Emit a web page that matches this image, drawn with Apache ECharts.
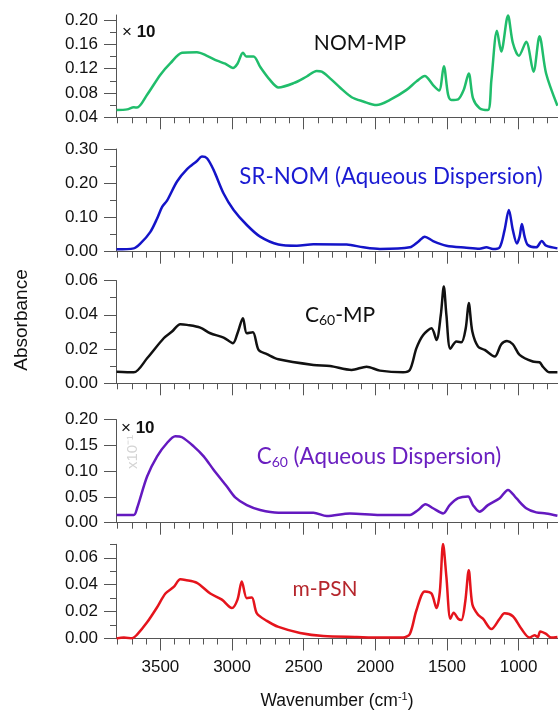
<!DOCTYPE html>
<html>
<head>
  <meta charset="utf-8">
  <title>FTIR spectra</title>
  <style>
html, body { margin: 0; padding: 0; background: #fff; }
#chart { width: 558px; height: 711px; }
  </style>
</head>
<body>
  <div id="chart"></div>
  <script src="https://cdn.jsdelivr.net/npm/echarts@6/dist/echarts.min.js"></script>
  <script>
// wavenumber (cm-1) and absorbance
const nomWn  = [3806, 3732, 3686, 3663, 3593, 3500, 3430, 3349, 3245, 3175, 3105, 3048, 2994, 2962, 2924, 2901, 2850, 2804, 2734, 2676,
  2571, 2479, 2409, 2374, 2316, 2247, 2165, 2084, 1991, 1898, 1782, 1713, 1655, 1597, 1555, 1522, 1492, 1469, 1422, 1383,
  1348, 1318, 1272, 1214, 1190, 1151, 1121, 1074, 1040, 998, 947, 896, 854, 808, 729];
const nomAbs = [0.052, 0.053, 0.0565, 0.056, 0.077, 0.110, 0.129, 0.146, 0.147, 0.141, 0.133, 0.128, 0.121, 0.128, 0.146, 0.140, 0.140, 0.123, 0.101, 0.089,
  0.096, 0.107, 0.116, 0.115, 0.104, 0.089, 0.073, 0.066, 0.060, 0.0685, 0.085, 0.099, 0.108, 0.093, 0.084, 0.124, 0.077, 0.0685, 0.0696, 0.085,
  0.112, 0.071, 0.055, 0.052, 0.101, 0.182, 0.148, 0.207, 0.162, 0.141, 0.164, 0.115, 0.173, 0.112, 0.059];

const srWn  = [3806, 3686, 3639, 3570, 3523, 3488, 3454, 3384, 3314, 3245, 3210, 3175, 3129, 3059, 2989, 2897, 2804, 2676, 2548, 2432,
  2200, 2084, 1968, 1759, 1701, 1655, 1597, 1504, 1365, 1272, 1225, 1179, 1132, 1098, 1068, 1040, 1012, 993, 977, 958,
  935, 877, 838, 808, 729];
const srAbs = [0.007, 0.0097, 0.024, 0.058, 0.097, 0.131, 0.149, 0.205, 0.241, 0.265, 0.278, 0.273, 0.239, 0.170, 0.122, 0.078, 0.044, 0.021, 0.0175, 0.022,
  0.021, 0.0127, 0.0078, 0.0127, 0.029, 0.044, 0.031, 0.0175, 0.0117, 0.0088, 0.0127, 0.0078, 0.0127, 0.063, 0.122, 0.063, 0.024, 0.044, 0.081, 0.044,
  0.0195, 0.0127, 0.031, 0.0175, 0.0097];

const c60mpWn  = [3806, 3686, 3593, 3477, 3419, 3361, 3314, 3222, 3152, 3059, 2994, 2962, 2924, 2897, 2855, 2815, 2757, 2676, 2432, 2316,
  2165, 2061, 1968, 1806, 1759, 1713, 1666, 1608, 1573, 1543, 1522, 1504, 1476, 1434, 1399, 1369, 1348, 1323, 1283, 1237,
  1167, 1121, 1081, 1040, 993, 901, 854, 831, 784, 729];
const c60mpAbs = [0.0068, 0.0064, 0.0146, 0.0263, 0.0302, 0.0345, 0.0341, 0.0325, 0.0292, 0.0267, 0.0234, 0.0292, 0.038, 0.0292, 0.0298, 0.0195, 0.017, 0.014, 0.0107, 0.0101,
  0.0078, 0.0097, 0.0074, 0.0064, 0.0078, 0.0205, 0.0282, 0.0321, 0.0253, 0.0399, 0.0565, 0.0399, 0.0201, 0.0244, 0.024, 0.0321, 0.0468, 0.0302, 0.0214, 0.0195,
  0.0156, 0.0228, 0.0247, 0.0228, 0.0166, 0.0127, 0.0123, 0.0097, 0.0064, 0.0064];

const c60aqWn  = [3806, 3686, 3663, 3593, 3523, 3454, 3396, 3349, 3268, 3198, 3129, 3036, 2978, 2897, 2804, 2676, 2432, 2339, 2177, 1968,
  1759, 1701, 1650, 1597, 1527, 1481, 1422, 1353, 1318, 1272, 1214, 1132, 1074, 1016, 947, 877, 808, 729];
const c60aqAbs = [0.015, 0.015, 0.028, 0.0896, 0.1286, 0.1545, 0.1675, 0.1656, 0.148, 0.1286, 0.1026, 0.070, 0.049, 0.034, 0.0247, 0.0195, 0.0195, 0.013, 0.018, 0.015,
  0.015, 0.0247, 0.0357, 0.028, 0.018, 0.034, 0.0474, 0.0506, 0.034, 0.0214, 0.034, 0.0474, 0.0636, 0.0474, 0.028, 0.020, 0.018, 0.0136];

const psnWn  = [3806, 3755, 3697, 3663, 3593, 3523, 3465, 3407, 3361, 3326, 3245, 3152, 3071, 3001, 2962, 2932, 2897, 2862, 2827, 2757,
  2676, 2525, 2363, 2130, 1968, 1806, 1759, 1713, 1655, 1608, 1573, 1550, 1527, 1504, 1476, 1453, 1422, 1399, 1372, 1348,
  1323, 1283, 1249, 1190, 1132, 1098, 1040, 982, 924, 889, 866, 849, 808, 773, 729];
const psnAbs = [0.000, 0.0007, 0.0002, 0.0029, 0.012, 0.0232, 0.0334, 0.0383, 0.044, 0.0435, 0.0413, 0.0334, 0.0289, 0.0226, 0.0289, 0.0424, 0.030, 0.0305, 0.0187, 0.0131,
  0.0086, 0.0041, 0.0018, 0.0011, 0.0007, 0.0007, 0.0034, 0.021, 0.035, 0.0334, 0.0226, 0.0345, 0.0702, 0.0458, 0.0147, 0.0192, 0.0147, 0.0138, 0.0277, 0.0508,
  0.0255, 0.0176, 0.0147, 0.007, 0.0147, 0.0187, 0.0165, 0.0074, 0.0007, 0.0025, 0.0011, 0.0052, 0.0034, 0.0007, 0.0011];

// axis ticks
const xMajorTicks = [1000, 1500, 2000, 2500, 3000, 3500];
const xMinorTicks = [800, 900, 1100, 1200, 1300, 1400, 1600, 1700, 1800, 1900, 2100, 2200, 2300, 2400,
  2600, 2700, 2800, 2900, 3100, 3200, 3300, 3400, 3600, 3700, 3800];

const panels = [
  { wn: nomWn, abs: nomAbs, color: '#20bd6b', min: 0.04, max: 0.208, top: 15, bottom: 117.3,
    major: [0.04, 0.08, 0.12, 0.16, 0.20], minor: [0.06, 0.10, 0.14, 0.18] },
  { wn: srWn, abs: srAbs, color: '#1414c8', min: 0, max: 0.30, top: 149, bottom: 251.7,
    major: [0, 0.10, 0.20, 0.30], minor: [0.05, 0.15, 0.25] },
  { wn: c60mpWn, abs: c60mpAbs, color: '#111111', min: 0, max: 0.06, top: 280.5, bottom: 383.3,
    major: [0, 0.02, 0.04, 0.06], minor: [0.01, 0.03, 0.05] },
  { wn: c60aqWn, abs: c60aqAbs, color: '#6419c0', min: 0, max: 0.20, top: 419.5, bottom: 522.7,
    major: [0, 0.05, 0.10, 0.15, 0.20], minor: [] },
  { wn: psnWn, abs: psnAbs, color: '#e5141c', min: 0, max: 0.07, top: 544.3, bottom: 647.7,
    major: [0, 0.02, 0.04, 0.06], minor: [0.01, 0.03, 0.05, 0.07] }
];

const axisGray = '#555';
const labelFont = 'Liberation Sans, Arial, sans-serif';
const titleFont = 'Lato, Open Sans, sans-serif';

const grid = [], xAxis = [], yAxis = [], series = [];

panels.forEach((p, i) => {
  grid.push({ left: 116, right: 0, top: p.top, height: p.bottom - p.top });
  const last = i === panels.length - 1;

  // major x ticks (+ labels on the bottom panel)
  xAxis.push({
    type: 'value', gridIndex: i, position: 'bottom', inverse: true, min: 725, max: 3810,
    axisLine: { show: true, onZero: false, lineStyle: { color: axisGray, width: 1 } },
    axisTick: { show: true, length: 12, customValues: xMajorTicks, lineStyle: { color: axisGray } },
    axisLabel: {
      show: last, customValues: xMajorTicks, margin: 20, fontSize: 17, color: '#111', fontFamily: labelFont,
      formatter: v => String(v)
    },
    splitLine: { show: false },
    name: last ? 'Wavenumber (cm{sup|-1})' : '',
    nameLocation: 'middle', nameGap: 53,
    nameTextStyle: {
      fontSize: 17.5, color: '#111', fontFamily: labelFont,
      rich: { sup: { fontSize: 11, verticalAlign: 'top', color: '#111', fontFamily: labelFont, padding: [0, 0, 8, 0] } }
    }
  });
  // minor x ticks
  xAxis.push({
    type: 'value', gridIndex: i, position: 'bottom', inverse: true, min: 725, max: 3810,
    axisLine: { show: false, onZero: false },
    axisTick: { show: true, length: 6, customValues: xMinorTicks, lineStyle: { color: axisGray } },
    axisLabel: { show: false },
    splitLine: { show: false }
  });

  yAxis.push({
    type: 'value', gridIndex: i, position: 'left', min: p.min, max: p.max,
    axisLine: { show: true, onZero: false, lineStyle: { color: axisGray, width: 1 } },
    axisTick: { show: true, length: 12, customValues: p.major, lineStyle: { color: axisGray } },
    axisLabel: {
      customValues: p.major, margin: 18, fontSize: 17, color: '#111', fontFamily: labelFont,
      formatter: v => v.toFixed(2)
    },
    splitLine: { show: false }
  });
  yAxis.push({
    type: 'value', gridIndex: i, position: 'left', min: p.min, max: p.max,
    axisLine: { show: false, onZero: false },
    axisTick: { show: p.minor.length > 0, length: 6, customValues: p.minor.length ? p.minor : [p.min], lineStyle: { color: axisGray } },
    axisLabel: { show: false },
    splitLine: { show: false }
  });

  series.push({
    type: 'line', xAxisIndex: 2 * i, yAxisIndex: 2 * i,
    data: p.wn.map((w, k) => [w, p.abs[k]]),
    showSymbol: false, smooth: 0.3,
    lineStyle: { color: p.color, width: 2.5 },
    clip: true
  });
});

const titles = [
  { x: 360, y: 43, text: 'NOM-MP', color: '#111', size: 21 },
  { x: 391, y: 177, text: 'SR-NOM (Aqueous Dispersion)', color: '#1a1ad2', size: 22.3 },
  { x: 340, y: 315, text: 'C{sub|60}-MP', color: '#111', size: 21 },
  { x: 379, y: 457, text: 'C{sub|60} (Aqueous Dispersion)', color: '#6a1fc0', size: 22.3 },
  { x: 325, y: 589, text: 'm-PSN', color: '#b5262c', size: 21 }
];

const graphic = titles.map(t => ({
  type: 'text', x: t.x, y: t.y,
  style: {
    text: t.text, fill: t.color, fontSize: t.size, fontFamily: titleFont,
    align: 'center', verticalAlign: 'middle',
    rich: { sub: { fontSize: 14, fill: t.color, fontFamily: titleFont, padding: [10, 0, 0, 0] } }
  }
}));

// "× 10" scale marks
[[122, 32], [121, 428]].forEach(([x, y]) => {
  graphic.push({
    type: 'text', x: x, y: y,
    style: {
      text: '× {b|10}', fill: '#111', fontSize: 17, fontFamily: labelFont,
      align: 'left', verticalAlign: 'middle',
      rich: { b: { fontSize: 17, fontWeight: 'bold', fill: '#111', fontFamily: labelFont } }
    }
  });
});

// faint leftover label inside the C60 panel
graphic.push({
  type: 'text', x: 133, y: 452, rotation: Math.PI / 2,
  style: { text: 'x10⁻¹', fill: '#d4d4d4', fontSize: 15, fontFamily: labelFont, align: 'center', verticalAlign: 'middle' }
});

graphic.push({
  type: 'text', x: 22, y: 320, rotation: Math.PI / 2,
  style: { text: 'Absorbance', fill: '#111', fontSize: 19, fontFamily: labelFont, align: 'center', verticalAlign: 'middle' }
});

const chart = echarts.init(document.getElementById('chart'));
chart.setOption({
  animation: false,
  backgroundColor: '#fff',
  grid, xAxis, yAxis, series, graphic
});
  </script>
</body>
</html>
